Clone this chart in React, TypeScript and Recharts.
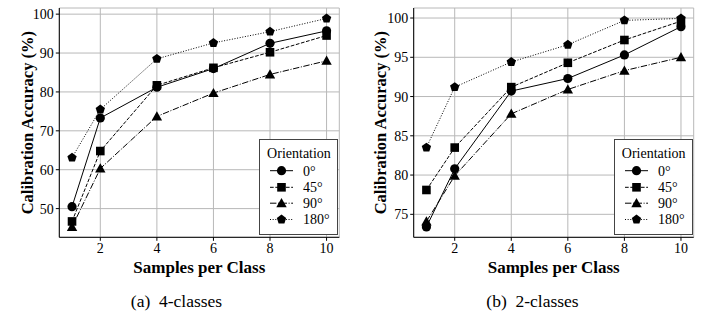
import { LineChart, Line, XAxis, YAxis, CartesianGrid, Legend } from "recharts";

const samples = [1, 2, 4, 6, 8, 10];
const orientations = ["0°", "45°", "90°", "180°"];

// (a) 4-classes
const fourClass0 = [50.5, 73.3, 81.2, 86.0, 92.5, 95.7];
const fourClass45 = [46.7, 64.8, 81.7, 86.2, 90.2, 94.5];
const fourClass90 = [45.3, 60.3, 73.7, 79.7, 84.5, 88.0];
const fourClass180 = [63.1, 75.5, 88.5, 92.6, 95.5, 98.9];
const fourClassTicks = [50, 60, 70, 80, 90, 100];

// (b) 2-classes
const twoClass0 = [73.4, 80.8, 90.7, 92.3, 95.3, 98.9];
const twoClass45 = [78.1, 83.5, 91.2, 94.3, 97.2, 99.6];
const twoClass90 = [74.1, 79.9, 87.8, 90.9, 93.3, 95.0];
const twoClass180 = [83.5, 91.2, 94.4, 96.6, 99.7, 99.95];
const twoClassTicks = [75, 80, 85, 90, 95, 100];

const xTicks = [2, 4, 6, 8, 10];

const FONT = "'Liberation Serif', 'DejaVu Serif', serif";
const keys = ["o0", "o45", "o90", "o180"];
const shapes = ["circle", "square", "triangle", "pentagon"];
const dashes = [undefined, "3.7 1.6", "6.4 1.6 1 1.6", "1 1.65"];

function buildRows(series: number[][]) {
    return samples.map((s, i) => {
        const row: any = { samples: s };
        keys.forEach((k, j) => (row[k] = series[j][i]));
        return row;
    });
}

// matplotlib style 5% auto margins
function padDomain(series: number[][]): [number, number] {
    const all = series.flat();
    const lo = Math.min(...all);
    const hi = Math.max(...all);
    const m = (hi - lo) * 0.05;
    return [lo - m, hi + m];
}

function Marker({ cx, cy, shape }: any) {
    if (cx == null || cy == null) return null;
    if (shape === "circle") return <circle cx={cx} cy={cy} r={4.6} fill="#000" />;
    if (shape === "square")
        return <rect x={cx - 4.3} y={cy - 4.3} width={8.6} height={8.6} fill="#000" />;
    if (shape === "triangle") {
        const pts = `${cx},${cy - 5.2} ${cx - 5.2},${cy + 4} ${cx + 5.2},${cy + 4}`;
        return <polygon points={pts} fill="#000" />;
    }
    const pts = [0, 1, 2, 3, 4]
        .map((i) => {
            const a = -Math.PI / 2 + (i * 2 * Math.PI) / 5;
            return `${cx + 4.9 * Math.cos(a)},${cy + 4.9 * Math.sin(a)}`;
        })
        .join(" ");
    return <polygon points={pts} fill="#000" />;
}

function LegendBox() {
    const rowY = [31.7, 48.3, 64.2, 80.5];
    return (
        <div
            style={{
                width: 79,
                height: 96,
                boxSizing: "border-box",
                border: "1px solid #444",
                background: "#fff",
                fontFamily: FONT,
                fontSize: 14,
                position: "relative",
            }}
        >
            <div style={{ position: "absolute", top: 5, left: 0, width: 78, textAlign: "center", lineHeight: "18px" }}>
                Orientation
            </div>
            <svg width={79} height={96} style={{ position: "absolute", left: -1, top: -1 }}>
                {orientations.map((o, i) => (
                    <g key={o}>
                        <line
                            x1={11}
                            x2={34}
                            y1={rowY[i]}
                            y2={rowY[i]}
                            stroke="#000"
                            strokeWidth={1}
                            strokeDasharray={dashes[i]}
                        />
                        <Marker cx={22.5} cy={rowY[i]} shape={shapes[i]} />
                        <text x={44} y={rowY[i] + 4.8} fontFamily={FONT} fontSize={14} fill="#000">
                            {o}
                        </text>
                    </g>
                ))}
            </svg>
        </div>
    );
}

function Panel({ series, yTicks, plotLeft, plotRight, legendLeft }: any) {
    const data = buildRows(series);
    const yDomain = padDomain(series);
    const tickStyle = { fontFamily: FONT, fontSize: 14, fill: "#000" };
    return (
        <LineChart
            width={353}
            height={312}
            data={data}
            margin={{ top: 8, right: 353 - plotRight, left: 0, bottom: 44.7 }}
            style={{ fontFamily: FONT }}
        >
            <CartesianGrid stroke="#b8b8b8" strokeWidth={1} />
            <XAxis
                dataKey="samples"
                type="number"
                domain={[0.55, 10.45]}
                ticks={xTicks}
                allowDataOverflow
                height={30}
                tickSize={3.5}
                tick={tickStyle}
                axisLine={{ stroke: "#000" }}
                tickLine={{ stroke: "#000" }}
                label={{
                    content: ({ viewBox }: any) => (
                        <text
                            x={viewBox.x + viewBox.width / 2}
                            y={273}
                            textAnchor="middle"
                            fontFamily={FONT}
                            fontSize={17}
                            fontWeight="bold"
                            fill="#000"
                        >
                            Samples per Class
                        </text>
                    ),
                }}
            />
            <XAxis
                xAxisId="top"
                orientation="top"
                type="number"
                domain={[0.55, 10.45]}
                height={0}
                tick={false}
                tickLine={false}
                axisLine={{ stroke: "#000" }}
            />
            <YAxis
                type="number"
                domain={yDomain}
                ticks={yTicks}
                allowDataOverflow
                width={plotLeft}
                tickSize={3.5}
                tick={tickStyle}
                axisLine={{ stroke: "#000" }}
                tickLine={{ stroke: "#000" }}
                label={{
                    content: ({ viewBox }: any) => {
                        const cx = 28;
                        const cy = viewBox.y + viewBox.height / 2;
                        return (
                            <text
                                x={cx}
                                y={cy}
                                transform={`rotate(-90 ${cx} ${cy})`}
                                textAnchor="middle"
                                dominantBaseline="central"
                                fontFamily={FONT}
                                fontSize={16.5}
                                fontWeight="bold"
                                fill="#000"
                            >
                                Calibration Accuracy (%)
                            </text>
                        );
                    },
                }}
            />
            <YAxis
                yAxisId="right"
                orientation="right"
                type="number"
                domain={yDomain}
                width={0}
                tick={false}
                tickLine={false}
                axisLine={{ stroke: "#000" }}
            />
            {keys.map((k, i) => (
                <Line
                    key={k}
                    dataKey={k}
                    name={orientations[i]}
                    type="linear"
                    stroke="#000"
                    strokeWidth={1}
                    strokeDasharray={dashes[i]}
                    dot={(p: any) => <Marker key={`${k}-${p.index}`} cx={p.cx} cy={p.cy} shape={shapes[i]} />}
                    activeDot={false}
                    isAnimationActive={false}
                />
            ))}
            <Legend
                layout="vertical"
                align="center"
                verticalAlign="middle"
                content={() => <LegendBox />}
                wrapperStyle={{ left: legendLeft, top: 139, width: 79, height: 96 }}
            />
        </LineChart>
    );
}

export default function App() {
    const caption = {
        position: "absolute" as const,
        top: 290,
        width: 353,
        textAlign: "center" as const,
        fontFamily: FONT,
        fontSize: 17.5,
        lineHeight: "22px",
        whiteSpace: "pre" as const,
    };
    return (
        <div style={{ position: "absolute", left: 0, top: 0, width: 706, height: 312, background: "#fff", fontFamily: FONT }}>
            <div style={{ position: "absolute", left: 0, top: 0 }}>
                <Panel
                    series={[fourClass0, fourClass45, fourClass90, fourClass180]}
                    yTicks={fourClassTicks}
                    plotLeft={59.3}
                    plotRight={339.3}
                    legendLeft={259}
                />
            </div>
            <div style={{ position: "absolute", left: 353, top: 0 }}>
                <Panel
                    series={[twoClass0, twoClass45, twoClass90, twoClass180]}
                    yTicks={twoClassTicks}
                    plotLeft={60.7}
                    plotRight={340.7}
                    legendLeft={260.7}
                />
            </div>
            <div style={{ ...caption, left: 0 }}>(a)  4-classes</div>
            <div style={{ ...caption, left: 356 }}>(b)  2-classes</div>
        </div>
    );
}
